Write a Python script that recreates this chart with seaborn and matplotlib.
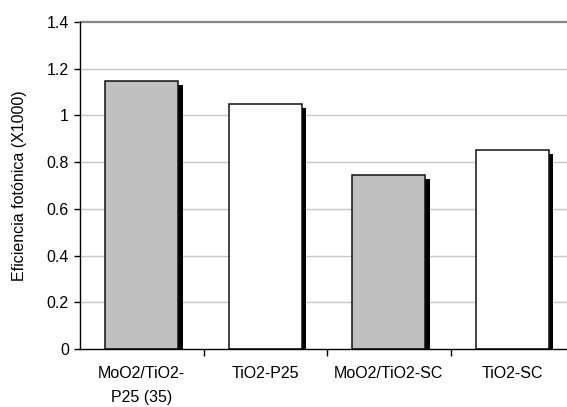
import matplotlib
matplotlib.use("Agg")
import matplotlib.pyplot as plt
import matplotlib.patheffects as pe
from matplotlib.ticker import FixedLocator, FuncFormatter
import seaborn as sns
import pandas as pd

categories = ["MoO2/TiO2-\nP25 (35)", "TiO2-P25", "MoO2/TiO2-SC", "TiO2-SC"]
efficiency = [1.146, 1.050, 0.746, 0.853]
bar_colors = ["#c0c0c0", "#ffffff", "#c0c0c0", "#ffffff"]
y_ticks = [0, 0.2, 0.4, 0.6, 0.8, 1.0, 1.2, 1.4]

sns.set_style("white", {"text.color": "black", "axes.labelcolor": "black",
                        "xtick.color": "black", "ytick.color": "black"})
plt.rcParams["font.family"] = ["Liberation Sans", "DejaVu Sans"]

df = pd.DataFrame({"muestra": categories, "eficiencia": efficiency})

fig = plt.figure(figsize=(5.67, 4.07), dpi=100)
ax = fig.add_axes([80 / 567, 58 / 407, 494 / 567, 327 / 407])

sns.barplot(data=df, x="muestra", y="eficiencia", hue="muestra",
            palette=bar_colors, legend=False, width=0.59,
            edgecolor="#111111", linewidth=1.1, saturation=1, ax=ax, zorder=3)

shadow = [pe.SimplePatchShadow(offset=(3.2, -3.0), shadow_rgbFace="black", alpha=1.0),
          pe.Normal()]
for p in ax.patches:
    p.set_path_effects(shadow)

ax.set_xlim(-0.5, 3.5)
ax.set_ylim(0, 1.4)
ax.yaxis.set_major_locator(FixedLocator(y_ticks))
ax.yaxis.set_major_formatter(FuncFormatter(lambda v, _: f"{v:g}"))

# horizontal gridlines, the top one darker like a frame edge
for v in y_ticks[1:-1]:
    ax.axhline(v, color="#c8c8c8", linewidth=1.0, zorder=1)
ax.axhline(1.4, color="#868686", linewidth=1.6, zorder=1, clip_on=False)

ax.spines["top"].set_visible(False)
ax.spines["right"].set_visible(False)
for s in ("left", "bottom"):
    ax.spines[s].set_color("black")
    ax.spines[s].set_linewidth(1.0)
    ax.spines[s].set_zorder(5)

fs = 11.5
ax.set_xlabel("")
ax.set_ylabel("Eficiencia fotónica (X1000)", fontsize=fs, labelpad=14, color="black")

ax.tick_params(axis="y", left=True, direction="out", length=4, width=1,
               pad=4, labelsize=fs, color="black", labelcolor="black")
ax.tick_params(axis="x", which="major", bottom=True, length=0, pad=12.5,
               labelsize=fs, labelcolor="black")
for t in ax.get_xticklabels():
    t.set_linespacing(1.75)
ax.set_xticks([0.5, 1.5, 2.5], minor=True)
ax.tick_params(axis="x", which="minor", bottom=True, direction="out", length=5,
               width=1, color="black")

fig.savefig("out.png", dpi=100)
